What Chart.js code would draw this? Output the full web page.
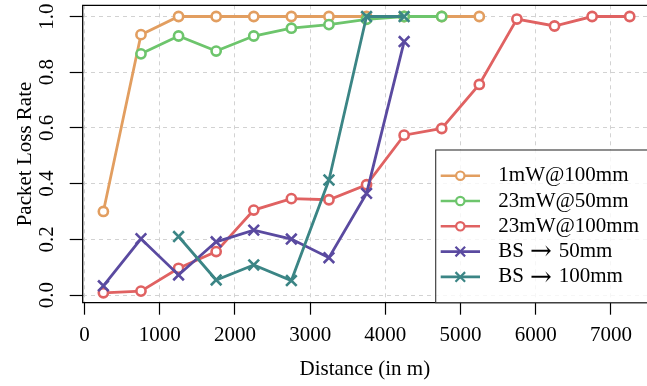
<!DOCTYPE html>
<html>
<head>
<meta charset="utf-8">
<style>
  html, body { margin: 0; padding: 0; background: #fff; }
  #wrap { width: 647px; height: 386px; }
</style>
<script src="https://cdn.jsdelivr.net/npm/chart.js@4/dist/chart.umd.min.js"></script>
</head>
<body>
<div id="wrap"><canvas id="grafico" width="647" height="386"></canvas></div>
<script>
"use strict";

// distancias (m)
const distancias = [250, 750, 1250, 1750, 2250, 2750, 3250, 3750, 4250, 4750, 5250, 5750, 6250, 6750, 7250];

const serie1mW100 = [0.30, 0.935, 1.0, 1.0, 1.0, 1.0, 1.0, 1.0, 1.0, 1.0, 1.0, null, null, null, null];
const serie23mW50 = [null, 0.866, 0.93, 0.876, 0.93, 0.958, 0.971, 0.99, 1.0, 1.0, null, null, null, null, null];
const serie23mW100 = [0.008, 0.014, 0.096, 0.156, 0.305, 0.346, 0.342, 0.396, 0.574, 0.598, 0.756, 0.991, 0.966, 1.0, 1.0];
const serieBS50 = [0.033, 0.202, 0.072, 0.191, 0.233, 0.201, 0.134, 0.365, 0.91, null, null, null, null, null, null];
const serieBS100 = [null, null, 0.21, 0.054, 0.108, 0.052, 0.413, 1.0, 1.0, null, null, null, null, null, null];

const etiquetas = ["1mW@100mm", "23mW@50mm", "23mW@100mm", "BS \u2192 50mm", "BS \u2192 100mm"];
const colores = ["#e29e60", "#6dc56c", "#e06262", "#5a4aa0", "#3b8585"];
const marcadores = ["circle", "circle", "circle", "crossRot", "crossRot"];

const xTicks = [0, 1000, 2000, 3000, 4000, 5000, 6000, 7000];
const yTicks = [0.0, 0.2, 0.4, 0.6, 0.8, 1.0];

const FUENTE = "'Liberation Serif', 'DejaVu Serif', serif";
const FLECHA = "'DejaVu Serif', serif";

function puntos(valores) {
    const out = [];
    valores.forEach(function (v, i) {
        if (v !== null) out.push({ x: distancias[i], y: v });
    });
    return out;
}

const series = [serie1mW100, serie23mW50, serie23mW100, serieBS50, serieBS100];

const datasets = series.map(function (s, i) {
    const circulo = marcadores[i] === "circle";
    return {
        label: etiquetas[i],
        data: puntos(s),
        borderColor: colores[i],
        backgroundColor: colores[i],
        borderWidth: 2.8,
        pointStyle: marcadores[i],
        pointRadius: circulo ? 4.6 : 7.5,
        pointBorderWidth: 2.6,
        pointBackgroundColor: circulo ? "#ffffff" : colores[i],
        pointBorderColor: colores[i],
        tension: 0,
        fill: false,
        order: series.length - i
    };
});

function sinPadding(s) {
    s.paddingLeft = 0;
    s.paddingRight = 0;
    s.paddingTop = 0;
    s.paddingBottom = 0;
}

// texto de la leyenda, con la flecha en otra fuente
function textoLeyenda(ctx, texto, x, y) {
    const partes = texto.split("\u2192");
    ctx.font = "21px " + FUENTE;
    if (partes.length < 2) {
        ctx.fillText(texto, x, y);
        return;
    }
    const a = partes[0].trim();
    const b = partes[1].trim();
    ctx.fillText(a, x, y);
    let px = x + ctx.measureText(a).width + 6;
    ctx.font = "26px " + FLECHA;
    ctx.fillText("\u2192", px, y + 1);
    px += ctx.measureText("\u2192").width + 7;
    ctx.font = "21px " + FUENTE;
    ctx.fillText(b, px, y);
}

// marco, etiquetas del eje y y leyenda
const extras = {
    id: "extras",
    afterDraw: function (chart) {
        const ctx = chart.ctx;
        const a = chart.chartArea;
        const ys = chart.scales.y;

        // marco
        ctx.save();
        ctx.strokeStyle = "#000";
        ctx.lineWidth = 1.3;
        ctx.beginPath();
        ctx.moveTo(a.right + 2, a.top);
        ctx.lineTo(a.left, a.top);
        ctx.lineTo(a.left, a.bottom);
        ctx.lineTo(a.right + 2, a.bottom);
        ctx.stroke();
        ctx.restore();

        // etiquetas y giradas
        ctx.save();
        ctx.fillStyle = "#000";
        ctx.font = "21px " + FUENTE;
        ctx.textAlign = "center";
        ctx.textBaseline = "alphabetic";
        yTicks.forEach(function (t) {
            const py = ys.getPixelForValue(t);
            ctx.save();
            ctx.translate(a.left - 29.7, py);
            ctx.rotate(-Math.PI / 2);
            ctx.fillText(t.toFixed(1), 0, 0);
            ctx.restore();
        });
        ctx.restore();

        // leyenda
        const bx = a.right - 211.3;
        const by = a.bottom - 152.7;
        ctx.save();
        ctx.fillStyle = "rgba(255,255,255,0.8)";
        ctx.fillRect(bx, by, 215, 152.7);
        ctx.strokeStyle = "#333";
        ctx.lineWidth = 1.1;
        ctx.strokeRect(bx, by, 215, 152.7);

        ctx.textAlign = "left";
        ctx.textBaseline = "middle";
        chart.data.datasets.forEach(function (ds, i) {
            const ey = by + 25.7 + i * 25.3;
            ctx.strokeStyle = ds.borderColor;
            ctx.lineWidth = 2.6;
            ctx.beginPath();
            ctx.moveTo(bx + 5, ey);
            ctx.lineTo(bx + 44.3, ey);
            ctx.stroke();
            const mx = bx + 24.6;
            ctx.lineWidth = 2.2;
            if (ds.pointStyle === "circle") {
                ctx.fillStyle = "#fff";
                ctx.beginPath();
                ctx.arc(mx, ey, 4.2, 0, Math.PI * 2);
                ctx.fill();
                ctx.stroke();
            } else {
                const d = 4.8;
                ctx.beginPath();
                ctx.moveTo(mx - d, ey - d);
                ctx.lineTo(mx + d, ey + d);
                ctx.moveTo(mx - d, ey + d);
                ctx.lineTo(mx + d, ey - d);
                ctx.stroke();
            }
            ctx.fillStyle = "#000";
            textoLeyenda(ctx, ds.label, bx + 62.6, ey);
        });
        ctx.restore();
    }
};

Chart.defaults.font.family = FUENTE;
Chart.defaults.color = "#000";

const grafico = new Chart(document.getElementById("grafico"), {
    type: "line",
    data: { datasets: datasets },
    options: {
        responsive: false,
        animation: false,
        devicePixelRatio: 1,
        layout: {
            autoPadding: false,
            padding: { top: 5.3, left: 0, right: 0, bottom: 0 }
        },
        plugins: {
            legend: { display: false },
            tooltip: { enabled: false }
        },
        scales: {
            x: {
                type: "linear",
                min: -25,
                max: 7480,
                afterBuildTicks: function (s) {
                    s.ticks = xTicks.map(function (v) { return { value: v }; });
                },
                ticks: {
                    autoSkip: false,
                    maxRotation: 0,
                    padding: 8,
                    font: { size: 21 },
                    color: "#000",
                    callback: function (v) { return String(v); }
                },
                grid: {
                    color: "#d2d2d2",
                    lineWidth: 1,
                    drawTicks: true,
                    tickLength: 12,
                    tickColor: "#000",
                    tickWidth: 1.2,
                    tickBorderDash: []
                },
                border: { display: false, dash: [4, 4] },
                title: {
                    display: true,
                    text: "Distance (in m)",
                    font: { size: 21 },
                    color: "#000",
                    padding: { top: 0, bottom: 4 }
                },
                afterFit: function (s) {
                    sinPadding(s);
                    s.height = 83.3;
                }
            },
            y: {
                type: "linear",
                min: -0.0276,
                max: 1.0403,
                afterBuildTicks: function (s) {
                    s.ticks = yTicks.map(function (v) { return { value: v }; });
                },
                ticks: { display: false },
                grid: {
                    color: "#d2d2d2",
                    lineWidth: 1,
                    drawTicks: true,
                    tickLength: 13,
                    tickColor: "#000",
                    tickWidth: 1.2,
                    tickBorderDash: []
                },
                border: { display: false, dash: [4, 4] },
                title: {
                    display: true,
                    text: "Packet Loss Rate",
                    font: { size: 21 },
                    color: "#000",
                    padding: { top: 13, bottom: 0 }
                },
                afterFit: function (s) {
                    sinPadding(s);
                    s.width = 82.7;
                }
            }
        }
    },
    plugins: [extras]
});
</script>
</body>
</html>
